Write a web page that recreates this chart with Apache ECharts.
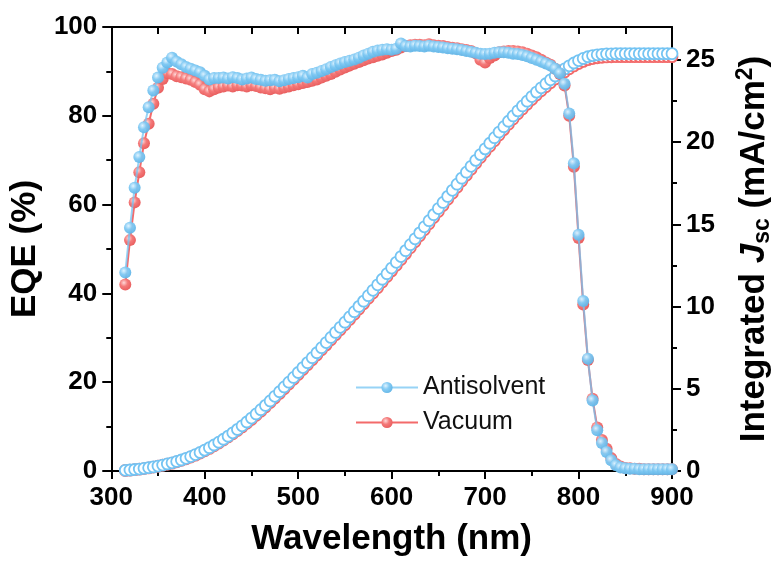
<!DOCTYPE html>
<html>
<head>
<meta charset="utf-8">
<script src="https://cdn.jsdelivr.net/npm/echarts@6/dist/echarts.min.js"></script>
<style>
  html, body { margin: 0; padding: 0; background: #fff; }
  #chart { width: 782px; height: 562px; }
</style>
</head>
<body>
<div id="chart"></div>
<script>
// Wavelength grid (nm)
const wavelength = [
  315,320,325,330,335,340,345,350,355,360,
  365,370,375,380,385,390,395,400,405,410,
  415,420,425,430,435,440,445,450,455,460,
  465,470,475,480,485,490,495,500,505,510,
  515,520,525,530,535,540,545,550,555,560,
  565,570,575,580,585,590,595,600,605,610,
  615,620,625,630,635,640,645,650,655,660,
  665,670,675,680,685,690,695,700,705,710,
  715,720,725,730,735,740,745,750,755,760,
  765,770,775,780,785,790,795,800,805,810,
  815,820,825,830,835,840,845,850,855,860,
  865,870,875,880,885,890,895,900
];

// EQE (%) – Antisolvent
const eqeAntisolvent = [
  44.7,54.8,63.8,70.7,77.4,81.9,85.7,88.6,90.8,92.0,
  93.1,92.2,91.6,91.0,90.6,90.2,89.8,89.0,88.2,88.5,
  88.5,88.6,88.4,88.7,88.5,88.2,88.4,88.6,88.3,88.1,
  87.9,88.0,88.1,87.8,88.0,88.3,88.5,88.7,89.0,88.6,
  89.4,89.7,90.1,90.5,91.0,91.4,91.8,92.1,92.4,92.7,
  93.1,93.6,94.0,94.4,94.7,94.9,95.0,94.9,95.1,96.3,
  95.7,95.6,95.8,95.7,95.6,95.8,95.6,95.5,95.4,95.2,
  95.1,95.0,94.8,94.6,94.4,94.2,94.0,93.9,94.0,94.2,
  94.3,94.3,94.2,94.0,93.9,93.7,93.4,93.0,92.6,92.2,
  91.8,91.3,90.6,89.6,87.2,80.5,69.3,53.2,38.3,25.3,
  15.9,9.2,6.3,4.3,2.4,1.3,0.8,0.6,0.5,0.5,
  0.4,0.4,0.4,0.4,0.4,0.4,0.4,0.4
];

// EQE (%) – Vacuum
const eqeVacuum = [
  42.0,52.0,60.5,67.3,73.8,78.2,82.7,86.3,88.3,89.6,
  89.4,88.9,88.7,88.4,88.1,87.6,87.0,86.0,85.5,86.0,
  86.4,86.6,86.8,86.6,86.9,86.8,86.6,86.9,86.7,86.4,
  86.2,86.0,86.3,86.1,86.4,86.6,86.9,87.1,87.4,87.6,
  87.9,88.2,88.6,89.0,89.4,89.9,90.4,90.9,91.3,91.7,
  92.1,92.5,92.9,93.2,93.5,93.8,94.2,94.6,94.9,95.4,
  95.7,95.9,96.0,96.0,95.9,96.1,95.9,95.8,95.7,95.5,
  95.3,95.2,95.0,94.8,94.6,94.1,92.6,92.0,93.0,93.6,
  94.3,94.5,94.6,94.6,94.5,94.3,94.0,93.6,93.2,92.6,
  92.0,91.5,90.6,89.4,86.8,80.0,68.5,52.5,37.5,25.0,
  16.3,9.8,7.0,5.0,2.9,1.6,1.0,0.7,0.6,0.5,
  0.5,0.4,0.4,0.4,0.4,0.4,0.4,0.4
];

// Integrated Jsc (mA/cm2) – Antisolvent
const jscAntisolvent = [
  0.04,0.06,0.09,0.12,0.16,0.20,0.25,0.30,0.36,0.43,
  0.50,0.58,0.67,0.77,0.88,1.00,1.13,1.27,1.42,1.58,
  1.75,1.93,2.12,2.32,2.53,2.75,2.98,3.22,3.47,3.73,
  3.99,4.26,4.54,4.82,5.11,5.40,5.69,5.99,6.29,6.59,
  6.89,7.19,7.50,7.81,8.12,8.43,8.74,9.05,9.37,9.69,
  10.01,10.33,10.66,10.99,11.32,11.66,12.00,12.34,12.69,13.04,
  13.40,13.76,14.12,14.48,14.85,15.22,15.59,15.96,16.33,16.70,
  17.07,17.44,17.81,18.17,18.53,18.89,19.24,19.59,19.93,20.27,
  20.61,20.94,21.27,21.59,21.90,22.20,22.49,22.77,23.04,23.30,
  23.55,23.79,24.02,24.24,24.45,24.64,24.81,24.96,25.09,25.19,
  25.26,25.31,25.34,25.36,25.37,25.38,25.38,25.38,25.38,25.38,
  25.38,25.38,25.38,25.38,25.38,25.38,25.38,25.38
];

// Integrated Jsc (mA/cm2) – Vacuum
const jscVacuum = [
  0.03,0.05,0.08,0.11,0.15,0.19,0.24,0.29,0.35,0.41,
  0.48,0.56,0.65,0.74,0.85,0.96,1.09,1.23,1.37,1.53,
  1.70,1.88,2.07,2.26,2.47,2.68,2.91,3.14,3.39,3.64,
  3.90,4.17,4.44,4.72,5.00,5.29,5.58,5.87,6.17,6.46,
  6.76,7.06,7.37,7.67,7.98,8.29,8.59,8.90,9.22,9.53,
  9.85,10.17,10.50,10.82,11.15,11.49,11.83,12.17,12.51,12.86,
  13.22,13.58,13.94,14.30,14.67,15.04,15.41,15.78,16.15,16.52,
  16.89,17.26,17.63,17.99,18.35,18.71,19.06,19.41,19.75,20.09,
  20.43,20.76,21.09,21.41,21.72,22.02,22.31,22.59,22.86,23.12,
  23.37,23.61,23.84,24.06,24.27,24.46,24.63,24.78,24.91,25.01,
  25.08,25.13,25.16,25.18,25.19,25.20,25.20,25.20,25.20,25.20,
  25.20,25.20,25.20,25.20,25.20,25.20,25.20,25.20
];

// Axis tick values
const eqeTicks = [0, 20, 40, 60, 80, 100];
const jscTicks = [0, 5, 10, 15, 20, 25];
const jscMinorTicks = [2.5, 7.5, 12.5, 17.5, 22.5];
const wavelengthTicks = [300, 400, 500, 600, 700, 800, 900];

const FONT = '"Liberation Sans", Arial, Helvetica, sans-serif';
const BLUE = '#74c4f3';
const RED = '#f36a6a';

const pairs = (ys) => wavelength.map((x, i) => [x, ys[i]]);

function ball(light, mid, dark) {
  return {
    type: 'radial', x: 0.38, y: 0.35, r: 0.7,
    colorStops: [
      { offset: 0, color: light },
      { offset: 0.45, color: mid },
      { offset: 1, color: dark }
    ]
  };
}

const tickLabel = { fontFamily: FONT, fontWeight: 'bold', fontSize: 26, color: '#000', margin: 14 };
const axisLine = { show: true, onZero: false, lineStyle: { color: '#000', width: 2 } };

const chart = echarts.init(document.getElementById('chart'), null, { renderer: 'canvas' });

chart.setOption({
  animation: false,
  backgroundColor: '#fff',
  grid: { left: 107, right: 103, top: 27, bottom: 89, containLabel: false },
  legend: {
    data: ['Antisolvent', 'Vacuum'],
    orient: 'vertical',
    left: 350,
    top: 368,
    itemWidth: 62,
    itemHeight: 14,
    itemGap: 6,
    textStyle: { fontFamily: FONT, fontSize: 25, color: '#111', lineHeight: 29 }
  },
  xAxis: [
    {
      type: 'value', position: 'bottom', min: 300, max: 900, interval: 100,
      name: 'Wavelength (nm)', nameLocation: 'middle', nameGap: 51,
      nameTextStyle: { fontFamily: FONT, fontWeight: 'bold', fontSize: 35, color: '#000' },
      axisLine: axisLine,
      axisTick: { show: true, inside: false, length: 8, lineStyle: { color: '#000', width: 2 } },
      minorTick: { show: true, splitNumber: 2, length: 5, lineStyle: { color: '#000', width: 2 } },
      axisLabel: Object.assign({}, tickLabel, { customValues: wavelengthTicks }),
      splitLine: { show: false }
    },
    {
      type: 'value', position: 'top', min: 300, max: 900, interval: 50,
      axisLine: axisLine,
      axisTick: { show: true, inside: true, length: 7, lineStyle: { color: '#000', width: 2 } },
      axisLabel: { show: false },
      splitLine: { show: false }
    }
  ],
  yAxis: [
    {
      type: 'value', position: 'left', min: 0, max: 100, interval: 20,
      name: 'EQE (%)', nameLocation: 'middle', nameGap: 62,
      nameTextStyle: { fontFamily: FONT, fontWeight: 'bold', fontSize: 35, color: '#000' },
      axisLine: axisLine,
      axisTick: { show: true, inside: false, length: 9, lineStyle: { color: '#000', width: 2 } },
      minorTick: { show: true, splitNumber: 2, length: 5, lineStyle: { color: '#000', width: 2 } },
      axisLabel: Object.assign({}, tickLabel, { customValues: eqeTicks }),
      splitLine: { show: false }
    },
    {
      type: 'value', position: 'right', min: 0, max: 27,
      name: '{b|Integrated }{i|J}{sub|sc}{b| (mA/cm}{sup|2}{b|)}',
      nameLocation: 'middle', nameGap: 62,
      nameTextStyle: {
        fontFamily: FONT, fontWeight: 'bold', fontSize: 35, color: '#000',
        rich: {
          b: { fontFamily: FONT, fontWeight: 'bold', fontSize: 35, color: '#000', lineHeight: 40 },
          i: { fontFamily: FONT, fontWeight: 'bold', fontStyle: 'italic', fontSize: 35, color: '#000', lineHeight: 40 },
          sub: { fontFamily: FONT, fontWeight: 'bold', fontSize: 23, color: '#000', lineHeight: 22, verticalAlign: 'bottom' },
          sup: { fontFamily: FONT, fontWeight: 'bold', fontSize: 23, color: '#000', lineHeight: 22, verticalAlign: 'top' }
        }
      },
      axisLine: axisLine,
      axisTick: { show: true, inside: false, length: 9, customValues: jscTicks, lineStyle: { color: '#000', width: 2 } },
      axisLabel: Object.assign({}, tickLabel, { customValues: jscTicks }),
      splitLine: { show: false }
    },
    {
      type: 'value', position: 'right', min: 0, max: 27,
      axisLine: { show: false },
      axisTick: { show: true, inside: false, length: 5, customValues: jscMinorTicks, lineStyle: { color: '#000', width: 2 } },
      axisLabel: { show: false },
      splitLine: { show: false }
    }
  ],
  series: [
    {
      name: 'Vacuum Jsc', type: 'line', yAxisIndex: 1, data: pairs(jscVacuum),
      symbol: 'circle', symbolSize: 11, showSymbol: true,
      itemStyle: { color: '#fff', borderColor: RED, borderWidth: 1.8 },
      lineStyle: { width: 0, opacity: 0 }, z: 2
    },
    {
      name: 'Antisolvent Jsc', type: 'line', yAxisIndex: 1, data: pairs(jscAntisolvent),
      symbol: 'circle', symbolSize: 11, showSymbol: true,
      itemStyle: { color: '#fff', borderColor: BLUE, borderWidth: 1.8 },
      lineStyle: { width: 0, opacity: 0 }, z: 3
    },
    {
      name: 'Vacuum', type: 'line', yAxisIndex: 0, data: pairs(eqeVacuum),
      symbol: 'circle', symbolSize: 12, showSymbol: true,
      itemStyle: { color: ball('#ffd9d9', '#f47a7a', '#e85c5c') },
      lineStyle: { color: RED, width: 2 }, z: 4
    },
    {
      name: 'Antisolvent', type: 'line', yAxisIndex: 0, data: pairs(eqeAntisolvent),
      symbol: 'circle', symbolSize: 12, showSymbol: true,
      itemStyle: { color: ball('#dff3ff', '#80c9f3', '#5db3e6'), opacity: 0.95 },
      lineStyle: { color: BLUE, width: 2, opacity: 0.75 }, z: 5
    }
  ]
});
</script>
</body>
</html>
